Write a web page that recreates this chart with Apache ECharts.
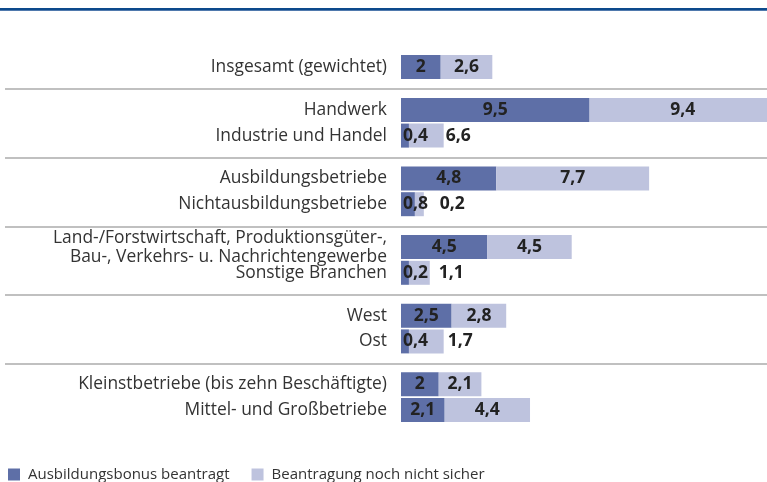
<!DOCTYPE html>
<html><head><meta charset="utf-8">
<script src="https://cdn.jsdelivr.net/npm/echarts@6/dist/echarts.min.js"></script>
<style>html,body{margin:0;padding:0;background:#fff}#c{width:767px;height:482px}</style>
</head><body><div id="c"></div>
<script>
// ---- data ----
const groups = [
  ["Insgesamt (gewichtet)"],
  ["Handwerk", "Industrie und Handel"],
  ["Ausbildungsbetriebe", "Nichtausbildungsbetriebe"],
  ["Land-/Forstwirtschaft, Produktionsgüter-,\nBau-, Verkehrs- u. Nachrichtengewerbe", "Sonstige Branchen"],
  ["West", "Ost"],
  ["Kleinstbetriebe (bis zehn Beschäftigte)", "Mittel- und Großbetriebe"]
];
const seriesNames = ["Ausbildungsbonus beantragt", "Beantragung noch nicht sicher"];
// bar lengths as drawn in the picture
const bonusBars  = [2, 9.5, 0.4, 4.8, 0.7, 4.35, 0.4, 2.55, 0.4, 1.9, 2.2];
const unsureBars = [2.6, 9.4, 1.75, 7.7, 0.45, 4.25, 1.05, 2.75, 1.75, 2.15, 4.3];
// printed value labels
const bonusLabels  = ["2", "9,5", "0,4", "4,8", "0,8", "4,5", "0,2", "2,5", "0,4", "2", "2,1"];
const unsureLabels = ["2,6", "9,4", "6,6", "7,7", "0,2", "4,5", "1,1", "2,8", "1,7", "2,1", "4,4"];

// ---- layout helpers ----
const WITHIN = 3, BETWEEN = 5;
const slotOf = [];
let slot = 0;
groups.forEach(g => {
  g.forEach((name, i) => {
    slotOf.push(slot);
    slot += (i < g.length - 1) ? WITHIN : BETWEEN;
  });
});
const nSlots = slotOf[slotOf.length - 1] + 1;
const cats = new Array(nSlots).fill("");
let k = 0;
groups.forEach(g => g.forEach(name => { cats[slotOf[k]] = name; k++; }));
const seps = [];
for (let gi = 1, idx = 0; gi < groups.length; gi++) {
  idx += groups[gi - 1].length;
  seps.push([slotOf[idx - 1], slotOf[idx]]);
}

const smallRight = {2: 2, 4: 16, 6: 9, 8: 4};
function mk(bars, labels, isDark) {
  const arr = new Array(nSlots).fill(null);
  bars.forEach((v, i) => {
    const item = { value: v };
    if (smallRight[i] !== undefined) {
      item.label = isDark
        ? { show: true, position: 'insideLeft', distance: 2, formatter: labels[i] }
        : { show: true, position: 'right', distance: smallRight[i], formatter: labels[i] };
    } else {
      item.label = { show: true, position: 'inside', formatter: labels[i] };
    }
    arr[slotOf[i]] = item;
  });
  return arr;
}

const chart = echarts.init(document.getElementById('c'), null, { renderer: 'canvas' });
const slotH = 8.575;
const labelStyle = { color: '#222', fontFamily: 'Open Sans', fontWeight: 'bold', fontSize: 17.5 };
chart.setOption({
  animation: false,
  grid: { left: 401, width: 397, top: 67 - slotH / 2, height: slotH * nSlots, outerBoundsMode: 'none', containLabel: false },
  xAxis: { type: 'value', min: 0, max: 20, show: false },
  yAxis: {
    type: 'category', data: cats, inverse: true,
    axisLine: { show: false }, axisTick: { show: false }, splitLine: { show: false },
    axisLabel: { interval: 0, margin: 14, color: '#333', fontFamily: 'Open Sans', fontSize: 17.4, lineHeight: 19, align: 'right' }
  },
  legend: {
    left: 3, top: 462, itemWidth: 12, itemHeight: 12, itemGap: 22, icon: 'rect',
    textStyle: { color: '#333', fontFamily: 'Open Sans', fontSize: 15, padding: [0, 0, 0, 3] },
    data: seriesNames
  },
  series: [
    { name: seriesNames[0], type: 'bar', stack: 's', barWidth: 24, clip: false,
      itemStyle: { color: '#5e6fa7' }, label: labelStyle, data: mk(bonusBars, bonusLabels, true) },
    { name: seriesNames[1], type: 'bar', stack: 's', barWidth: 24, clip: false,
      itemStyle: { color: '#bec3de' }, label: labelStyle, data: mk(unsureBars, unsureLabels, false) }
  ]
});

const graphics = [
  { type: 'rect', shape: { x: 0, y: 8, width: 767, height: 3 }, style: { fill: '#0d4a8c' } },
  { type: 'rect', shape: { x: 0, y: 10, width: 767, height: 1 }, style: { fill: '#4f79ad' } }
];
seps.forEach(([s0, s1]) => {
  const a = chart.convertToPixel({ yAxisIndex: 0 }, s0);
  const b = chart.convertToPixel({ yAxisIndex: 0 }, s1);
  const y = Math.round((a + b) / 2) + 1;
  graphics.push({ type: 'rect', shape: { x: 5, y: y - 1, width: 762, height: 2 }, style: { fill: '#c0c0c0' } });
});
chart.setOption({ graphic: graphics });
</script>
</body></html>
